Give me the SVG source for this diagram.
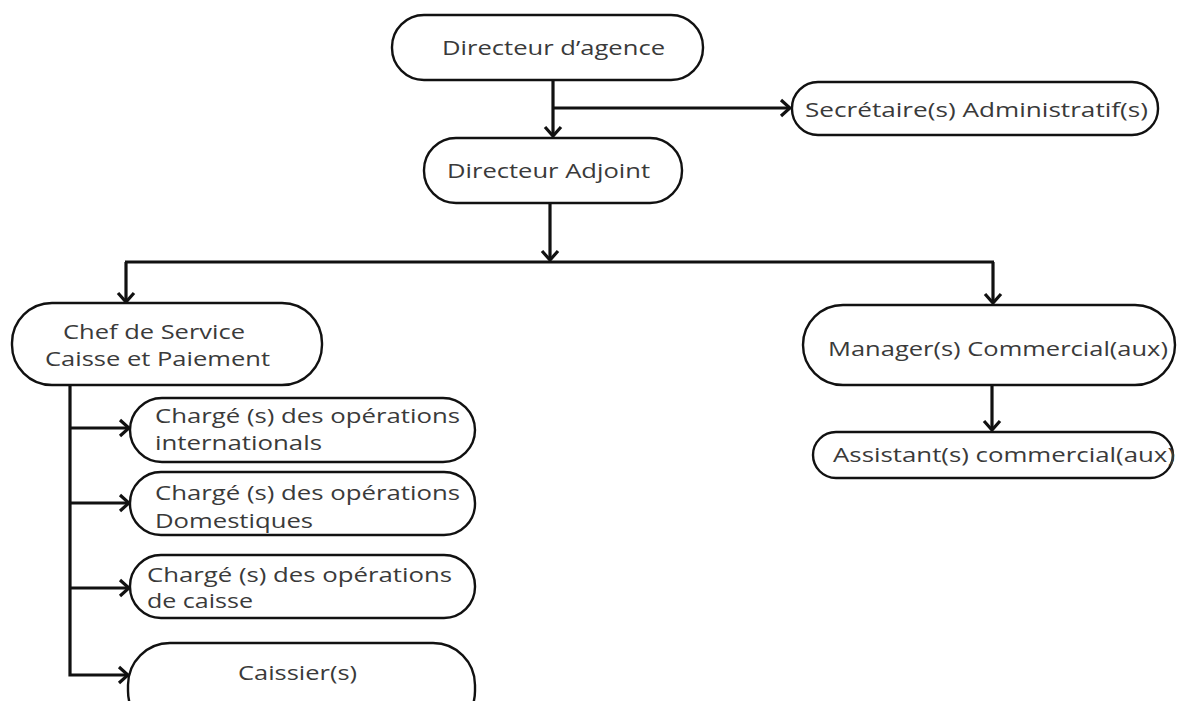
<svg xmlns="http://www.w3.org/2000/svg" width="1177" height="701" viewBox="0 0 1177 701">
<style>
.box{fill:#fff;stroke:#111;stroke-width:2.4}
.t{font-family:"Open Sans","Noto Sans",sans-serif;font-size:20px;fill:#3a3a3a}
.c{fill:none;stroke:#111;stroke-width:3.2}
</style>
<defs>
<marker id="ah" viewBox="-12 -10 14 20" refX="0" refY="0" markerWidth="14" markerHeight="20" markerUnits="userSpaceOnUse" orient="auto">
<path d="M-9,-8 L0,0 L-9,8" fill="none" stroke="#111" stroke-width="3.2"/>
</marker>
</defs>
<rect width="1177" height="701" fill="#fff"/>
<g id="connectors">
<path class="c" d="M553,80 V136" marker-end="url(#ah)"/>
<path class="c" d="M553,108 H790" marker-end="url(#ah)"/>
<path class="c" d="M550,203 V260" marker-end="url(#ah)"/>
<path class="c" d="M125,262 H994"/>
<path class="c" d="M126,262 V302" marker-end="url(#ah)"/>
<path class="c" d="M993,262 V303" marker-end="url(#ah)"/>
<path class="c" d="M992,385 V430" marker-end="url(#ah)"/>
<path class="c" d="M70,385 V675 H128" marker-end="url(#ah)"/>
<path class="c" d="M70,428 H129" marker-end="url(#ah)"/>
<path class="c" d="M70,503 H129" marker-end="url(#ah)"/>
<path class="c" d="M70,588 H129" marker-end="url(#ah)"/>
</g>
<g id="directeur-agence">
<rect class="box" x="392" y="15" width="311" height="65" rx="32"/>
<text class="t" x="442" y="55" textLength="223" lengthAdjust="spacingAndGlyphs">Directeur d’agence</text>
</g>
<g id="secretaire">
<rect class="box" x="792" y="82" width="366" height="53" rx="26"/>
<text class="t" x="805" y="117" textLength="343" lengthAdjust="spacingAndGlyphs">Secrétaire(s) Administratif(s)</text>
</g>
<g id="directeur-adjoint">
<rect class="box" x="424" y="138" width="258" height="65" rx="32"/>
<text class="t" x="447" y="178" textLength="203" lengthAdjust="spacingAndGlyphs">Directeur Adjoint</text>
</g>
<g id="chef-service">
<rect class="box" x="12" y="303" width="310" height="82" rx="40"/>
<text class="t" x="63" y="339" textLength="182" lengthAdjust="spacingAndGlyphs">Chef de Service</text>
<text class="t" x="45" y="366" textLength="225" lengthAdjust="spacingAndGlyphs">Caisse et Paiement</text>
</g>
<g id="manager">
<rect class="box" x="803" y="305" width="372" height="80" rx="40"/>
<text class="t" x="828" y="356" textLength="340" lengthAdjust="spacingAndGlyphs">Manager(s) Commercial(aux)</text>
</g>
<g id="assistant">
<rect class="box" x="813" y="432" width="360" height="46" rx="23"/>
<text class="t" x="833" y="462" textLength="342" lengthAdjust="spacingAndGlyphs">Assistant(s) commercial(aux)</text>
</g>
<g id="charge-internationals">
<rect class="box" x="130" y="398" width="345" height="64" rx="32"/>
<text class="t" x="155" y="423" textLength="305" lengthAdjust="spacingAndGlyphs">Chargé (s) des opérations</text>
<text class="t" x="155" y="450" textLength="167" lengthAdjust="spacingAndGlyphs">internationals</text>
</g>
<g id="charge-domestiques">
<rect class="box" x="130" y="472" width="345" height="63" rx="31"/>
<text class="t" x="155" y="500" textLength="305" lengthAdjust="spacingAndGlyphs">Chargé (s) des opérations</text>
<text class="t" x="155" y="528" textLength="158" lengthAdjust="spacingAndGlyphs">Domestiques</text>
</g>
<g id="charge-caisse">
<rect class="box" x="130" y="555" width="345" height="63" rx="31"/>
<text class="t" x="147" y="582" textLength="305" lengthAdjust="spacingAndGlyphs">Chargé (s) des opérations</text>
<text class="t" x="147" y="608" textLength="106" lengthAdjust="spacingAndGlyphs">de caisse</text>
</g>
<g id="caissier">
<rect class="box" x="128" y="643" width="347" height="90" rx="42"/>
<text class="t" x="238" y="680" textLength="119" lengthAdjust="spacingAndGlyphs">Caissier(s)</text>
</g>
</svg>
